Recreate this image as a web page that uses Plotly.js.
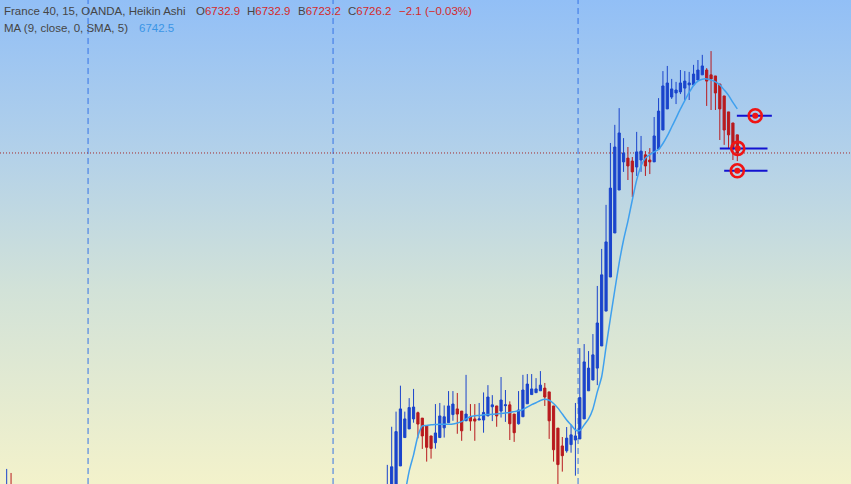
<!DOCTYPE html>
<html><head><meta charset="utf-8">
<script src="https://cdn.plot.ly/plotly-3.0.1.min.js"></script>
<style>
html,body{margin:0;padding:0;}
#chart{width:851px;height:484px;background:linear-gradient(to bottom,#92bff6 0%,#b1d0ea 30%,#d2e2d8 60%,#f3f2cb 100%);}
</style></head><body><div id="chart"></div>
<script>
// ---- data ----
const candleIndex = [-87,-86,0,1,2,3,4,5,6,7,8,9,10,11,12,13,14,15,16,17,18,19,20,21,22,23,24,25,26,27,28,29,30,31,32,33,34,35,36,37,38,39,40,41,42,43,44,45,46,47,48,49,50,51,52,53,54,55,56,57,58,59,60,61,62,63,64,65,66,67,68,69,70,71,72,73,74,75,76,77,78,79,80];
const openVals = [6590.4,6599.7,6592.3,6597.8,6601.5,6610.4,6620.9,6624.1,6627.8,6630.1,6628.1,6625.3,6621.5,6619.0,6620.9,6624.5,6626.4,6629.4,6631.5,6630.7,6627.1,6628.5,6627.8,6627.4,6627.4,6628.9,6632.3,6632.6,6630.7,6632.7,6633.0,6629.6,6626.0,6628.6,6633.4,6636.8,6637.5,6638.2,6639.2,6637.8,6632.6,6624.4,6617.8,6616.0,6618.3,6620.0,6620.4,6627.8,6638.2,6642.2,6646.6,6654.8,6667.7,6680.3,6696.6,6712.5,6722.9,6724.3,6723.2,6721.0,6723.6,6725.5,6723.6,6722.9,6727.7,6734.7,6742.5,6746.9,6748.4,6748.8,6750.2,6751.4,6751.4,6753.2,6755.1,6756.9,6755.1,6754.7,6751.7,6747.3,6741.4,6737.3,6732.9];
const highVals = [6609.3,6607.8,6610.8,6624.9,6630.5,6640.1,6630.5,6635.5,6638.9,6630.5,6628.1,6625.3,6621.5,6633.3,6633.7,6632.8,6638.1,6638.1,6637.4,6630.7,6644.1,6633.3,6633.3,6633.7,6637.6,6640.3,6636.6,6632.6,6643.3,6638.5,6634.3,6629.6,6638.1,6644.1,6644.4,6644.4,6642.9,6645.5,6641.1,6637.8,6632.6,6624.4,6621.1,6624.8,6625.6,6633.7,6654.0,6655.5,6652.9,6659.2,6677.0,6690.7,6707.0,6729.9,6736.6,6742.8,6731.7,6728.4,6724.7,6734.0,6732.5,6726.9,6728.0,6739.5,6746.5,6756.5,6758.4,6753.6,6752.5,6756.9,6756.5,6756.2,6758.8,6760.6,6762.5,6757.6,6763.9,6754.7,6751.7,6747.3,6741.4,6737.3,6732.9];
const lowVals = [6590.4,6592.3,6592.3,6597.8,6601.5,6610.4,6620.9,6624.1,6626.4,6620.6,6616.7,6612.0,6613.1,6616.8,6620.9,6620.9,6626.4,6627.1,6622.3,6619.7,6627.1,6623.4,6619.7,6627.4,6622.7,6628.9,6627.0,6624.9,6628.3,6626.7,6620.0,6619.3,6625.7,6628.6,6633.4,6636.8,6637.5,6638.2,6632.6,6620.4,6612.0,6601.5,6608.3,6615.3,6615.3,6606.8,6620.4,6627.8,6638.2,6642.2,6640.3,6654.8,6667.7,6680.3,6696.6,6712.5,6719.2,6716.2,6709.9,6717.7,6719.2,6717.7,6718.4,6722.9,6727.7,6734.7,6742.5,6746.2,6744.3,6748.0,6745.8,6745.8,6751.4,6753.2,6755.1,6743.6,6742.1,6742.1,6731.0,6729.2,6727.7,6723.6,6723.2];
const closeVals = [6600.8,6594.1,6600.8,6610.1,6623.1,6631.5,6627.8,6632.0,6632.2,6625.9,6621.5,6617.3,6616.9,6622.6,6628.9,6628.6,6632.6,6633.3,6629.6,6623.4,6629.6,6627.0,6627.0,6627.8,6630.2,6635.9,6633.0,6628.9,6634.8,6633.0,6626.0,6622.7,6631.1,6638.5,6640.7,6638.9,6638.9,6640.3,6635.9,6627.1,6616.4,6610.9,6614.2,6620.7,6621.9,6621.5,6635.7,6648.9,6646.6,6651.5,6663.3,6681.1,6693.3,6713.2,6728.4,6733.6,6726.2,6721.4,6719.2,6726.6,6726.9,6721.4,6722.9,6732.5,6741.7,6751.0,6752.1,6749.9,6749.5,6752.1,6752.8,6752.1,6755.4,6756.9,6758.4,6752.8,6753.6,6748.4,6742.5,6734.7,6732.9,6727.7,6726.2];

const maIndex = [4,5,6,7,8,9,10,11,12,13,14,15,16,17,18,19,20,21,22,23,24,25,26,27,28,29,30,31,32,33,34,35,36,37,38,39,40,41,42,43,44,45,46,47,48,49,50,51,52,53,54,55,56,57,58,59,60,61,62,63,64,65,66,67,68,69,70,71,72,73,74,75,76,77,78,79,80];
const maVals = [6599.7,6608.5,6614.5,6621.5,6625.2,6625.4,6625.6,6625.7,6625.8,6625.8,6625.8,6625.9,6626.3,6626.8,6627.8,6628.7,6629.0,6629.1,6629.3,6629.4,6629.5,6629.6,6629.8,6630.0,6630.2,6630.5,6630.8,6631.3,6632.2,6633.1,6633.8,6634.6,6635.1,6634.7,6633.5,6631.8,6629.6,6627.4,6625.6,6623.7,6623.5,6625.6,6627.8,6631.5,6637.8,6643.4,6654.4,6665.1,6675.5,6685.5,6694.0,6701.0,6708.8,6716.2,6721.4,6724.3,6725.6,6726.6,6727.5,6729.7,6732.5,6735.8,6739.1,6742.5,6745.6,6748.6,6751.2,6752.8,6753.5,6753.6,6753.2,6752.5,6751.4,6749.5,6747.5,6744.9,6742.5];

const targetIndex = [84.1, 80.1, 80.0];
const targetPrice = [6740.0, 6727.9, 6719.6];
const targetLineStart = [79.9, 76.0, 77.0];
const targetLineEnd = [87.9, 86.9, 86.9];

const sessionBreaks = [-68.4, -12.4, 43.6];
const lastPrice = 6726.2;

const headerTitle = 'France 40, 15, OANDA, Heikin Ashi';
const headerLabels = ['O','H','B','C'];
const headerValues = ['6732.9','6732.9','6723.2','6726.2'];
const headerChange = '\u22122.1 (\u22120.03%)';
const maLabel = 'MA (9, close, 0, SMA, 5)';
const maLast = '6742.5';

// ---- styles / layout ----
const W = 851, H = 484;
const BLUE = '#1a44cc', RED = '#b81a1e';
const TXT = '#454545', TXTRED = '#d42a2a', TXTBLUE = '#3a95e6';

const lineX = [], lineY = [];
for (let i = 0; i < targetPrice.length; i++) {
  lineX.push(targetLineStart[i], targetLineEnd[i], null);
  lineY.push(targetPrice[i], targetPrice[i], null);
}

const traces = [
  {type:'candlestick', x:candleIndex, open:openVals, high:highVals, low:lowVals, close:closeVals,
   increasing:{line:{color:BLUE,width:1}, fillcolor:BLUE},
   decreasing:{line:{color:RED,width:1}, fillcolor:RED},
   whiskerwidth:0, hoverinfo:'skip', showlegend:false},
  {type:'scatter', mode:'lines', x:maIndex, y:maVals, line:{color:'#3fa0ee', width:1.5, shape:'spline', smoothing:0.6}, hoverinfo:'skip', showlegend:false},
  {type:'scatter', mode:'lines', x:lineX, y:lineY, line:{color:'#1212d0', width:2}, hoverinfo:'skip', showlegend:false, connectgaps:false},
  {type:'scatter', mode:'markers', x:targetIndex, y:targetPrice, marker:{symbol:'circle-open', size:13, color:'#f01414', line:{width:2.6, color:'#f01414'}}, hoverinfo:'skip', showlegend:false},
  {type:'scatter', mode:'markers', x:targetIndex, y:targetPrice, marker:{symbol:'circle', size:6, color:'#f01414'}, hoverinfo:'skip', showlegend:false}
];

const shapes = sessionBreaks.map(v => ({type:'line', xref:'x', yref:'paper', x0:v, x1:v, y0:0, y1:1, layer:'below', line:{color:'#3574e6', width:1, dash:'6px,4px'}}));
shapes.push({type:'line', xref:'paper', yref:'y', x0:0, x1:1, y0:lastPrice, y1:lastPrice, layer:'below', line:{color:'#a52a2a', width:1, dash:'1px,2px'}});

const font = {family:'"Liberation Sans", Arial, sans-serif', size:11.5, color:TXT};
function ann(px, py, text) {
  return {xref:'paper', yref:'paper', x:px/W, y:1-py/H, xanchor:'left', yanchor:'middle', text:text, showarrow:false, font:font};
}
const headerX = [194, 245, 296, 346];
const annotations = [ann(2, 11, headerTitle)];
headerLabels.forEach((l, i) => annotations.push(ann(headerX[i], 11, l + '<span style="color:' + TXTRED + '">' + headerValues[i] + '</span>')));
annotations.push(ann(397, 11, '<span style="color:' + TXTRED + '">' + headerChange + '</span>'));
annotations.push(ann(2, 28, maLabel));
annotations.push(ann(137, 28, '<span style="color:' + TXTBLUE + '">' + maLast + '</span>'));

const x0 = 387.3, step = 4.375;
const layout = {
  width:W, height:H, margin:{l:0,r:0,t:0,b:0,pad:0},
  paper_bgcolor:'rgba(0,0,0,0)', plot_bgcolor:'rgba(0,0,0,0)',
  xaxis:{range:[-x0/step, (W-x0)/step], visible:false, rangeslider:{visible:false}, fixedrange:true},
  yaxis:{range:[6603.72, 6782.8], visible:false, fixedrange:true},
  boxgap:0.28,
  shapes:shapes, annotations:annotations, showlegend:false, hovermode:false
};
Plotly.newPlot('chart', traces, layout, {staticPlot:true, displayModeBar:false});
</script></body></html>
